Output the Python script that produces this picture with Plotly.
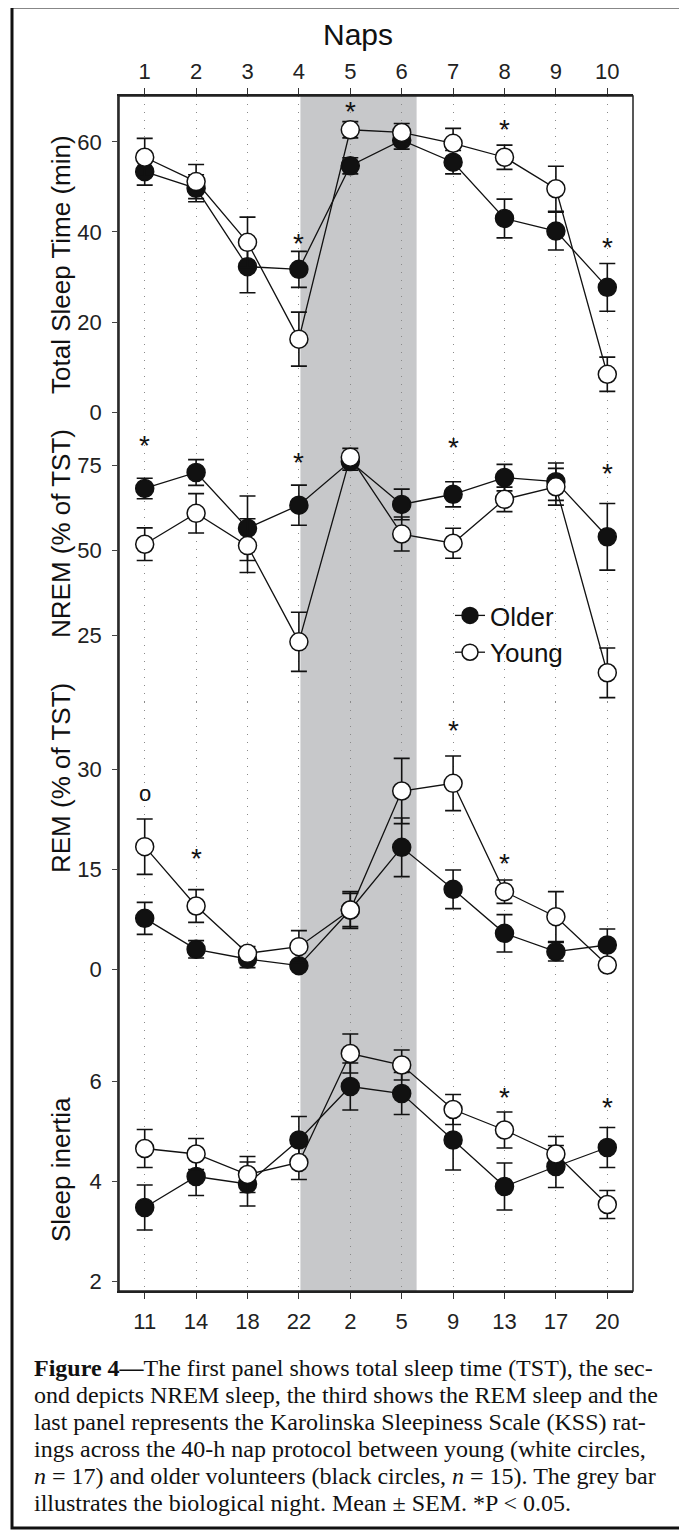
import plotly.graph_objects as go

# ---------------- data ----------------
naps = ['1', '2', '3', '4', '5', '6', '7', '8', '9', '10']
clock_hours = ['11', '14', '18', '22', '2', '5', '9', '13', '17', '20']

tst_older = [53.4, 49.7, 32.3, 31.7, 54.7, 60.4, 55.5, 43.0, 40.2, 27.7]
tst_older_sem = [3.0, 3.0, 5.8, 4.0, 1.8, 2.0, 2.6, 4.3, 4.2, 5.3]
tst_young = [56.6, 51.2, 37.7, 16.2, 62.7, 62.1, 59.7, 56.6, 49.6, 8.4]
tst_young_sem = [4.2, 3.8, 5.6, 6.0, 1.8, 2.0, 3.3, 2.7, 5.0, 3.8]

nrem_older = [68.1, 72.8, 56.4, 63.2, 76.0, 63.4, 66.4, 71.3, 70.1, 53.9]
nrem_older_sem = [3.0, 3.8, 9.5, 5.9, 2.5, 4.5, 3.7, 3.9, 5.5, 9.8]
nrem_young = [51.7, 60.8, 51.3, 23.0, 77.3, 54.7, 52.0, 64.9, 68.6, 13.9]
nrem_young_sem = [4.8, 5.8, 7.9, 8.7, 2.6, 5.0, 4.4, 3.6, 5.4, 7.3]

rem_older = [7.6, 2.95, 1.5, 0.5, 8.85, 18.25, 11.95, 5.35, 2.6, 3.6]
rem_older_sem = [2.4, 1.3, 1.3, 0.6, 2.5, 4.4, 2.9, 2.8, 1.4, 2.4]
rem_young = [18.35, 9.45, 2.35, 3.35, 8.85, 26.7, 27.85, 11.6, 7.85, 0.6]
rem_young_sem = [4.15, 2.45, 1.0, 2.4, 2.75, 4.9, 4.1, 1.75, 3.75, 0.5]

kss_older = [3.47, 4.09, 3.94, 4.82, 5.89, 5.75, 4.82, 3.89, 4.29, 4.67]
kss_older_sem = [0.45, 0.38, 0.44, 0.47, 0.47, 0.42, 0.6, 0.47, 0.42, 0.4]
kss_young = [4.65, 4.54, 4.13, 4.37, 6.55, 6.32, 5.43, 5.02, 4.54, 3.53]
kss_young_sem = [0.38, 0.31, 0.36, 0.34, 0.39, 0.3, 0.3, 0.36, 0.35, 0.28]

# significance markers: (nap index, y position, symbol)
tst_marks = [(3, 38.9, '*'), (4, 68.4, '*'), (7, 64.4, '*'), (9, 38.2, '*')]
nrem_marks = [(0, 82.8, '*'), (3, 77.9, '*'), (6, 82.1, '*'), (9, 74.5, '*')]
rem_marks = [(0, 26.4, 'o'), (1, 17.6, '*'), (6, 36.9, '*'), (7, 16.9, '*')]
kss_marks = [(7, 5.82, '*'), (9, 5.62, '*')]

night_start = 3.03
night_end = 5.29

caption_lines = [
    "<b>Figure 4—</b>The first panel shows total sleep time (TST), the sec-",
    "ond depicts NREM sleep, the third shows the REM sleep and the",
    "last panel represents the Karolinska Sleepiness Scale (KSS) rat-",
    "ings across the 40-h nap protocol between young (white circles,",
    "<i>n</i> = 17) and older volunteers (black circles, <i>n</i> = 15). The grey bar",
    "illustrates the biological night. Mean ± SEM. *P < 0.05.",
]

# ---------------- layout geometry (page pixel coordinates) ----------------
OFF = 8                      # default body margin of the html page
PAGE_W, PAGE_H = 687, 1537
W, H = PAGE_W - OFF, PAGE_H - OFF
L, R, T, B = 119, 633, 96, 1291   # plot area on the page
PH = B - T
PW = R - L


def fy(ypix):
    return (B - ypix) / PH


def fx(xpix):
    return (xpix - L) / PW


idx = list(range(len(naps)))
SANS = "Liberation Sans, Arial, sans-serif"
INK = '#111111'

fig = go.Figure()

panels = [
    ('y', tst_older, tst_older_sem, tst_young, tst_young_sem, tst_marks),
    ('y2', nrem_older, nrem_older_sem, nrem_young, nrem_young_sem, nrem_marks),
    ('y3', rem_older, rem_older_sem, rem_young, rem_young_sem, rem_marks),
    ('y4', kss_older, kss_older_sem, kss_young, kss_young_sem, kss_marks),
]

annotations = []
for ya, o, osem, yg, ysem, marks in panels:
    show = (ya == 'y2')
    fig.add_trace(go.Scatter(
        x=idx, y=o, yaxis=ya, xaxis='x', name='Older', showlegend=show,
        mode='lines+markers',
        line=dict(color=INK, width=1.3),
        marker=dict(symbol='circle', size=18, color=INK, line=dict(color=INK, width=1.5)),
        error_y=dict(type='data', array=osem, color=INK, thickness=1.6, width=8),
    ))
    fig.add_trace(go.Scatter(
        x=idx, y=yg, yaxis=ya, xaxis='x', name='Young', showlegend=show,
        mode='lines+markers',
        line=dict(color=INK, width=1.3),
        marker=dict(symbol='circle', size=18, color='white', line=dict(color=INK, width=1.5)),
        error_y=dict(type='data', array=ysem, color=INK, thickness=1.6, width=8),
    ))
    for (i, yv, s) in marks:
        annotations.append(dict(
            x=i, y=yv, xref='x', yref=ya, text=s, showarrow=False,
            font=dict(family=SANS, size=28 if s == '*' else 22, color=INK),
            yshift=-7 if s == '*' else 0,
        ))

# invisible trace to activate top axis
fig.add_trace(go.Scatter(x=idx, y=tst_older, xaxis='x2', yaxis='y', mode='markers',
                         marker=dict(opacity=0), showlegend=False, hoverinfo='skip'))

ytitles = [
    ("Total Sleep Time (min)", 265),
    ("NREM (% of TST)", 534),
    ("REM (% of TST)", 778),
    ("Sleep inertia", 1170),
]
for txt, yc in ytitles:
    annotations.append(dict(
        x=fx(61), y=fy(yc), xref='paper', yref='paper', text=txt, textangle=-90,
        showarrow=False, font=dict(family=SANS, size=26, color=INK),
        xanchor='center', yanchor='middle'))

annotations.append(dict(
    x=fx(358), y=fy(35), xref='paper', yref='paper', text='Naps', showarrow=False,
    font=dict(family=SANS, size=30, color=INK), xanchor='center', yanchor='middle'))

for k, line in enumerate(caption_lines):
    annotations.append(dict(
        x=fx(32), y=fy(1368 + 27 * k), xref='paper', yref='paper', text=line,
        showarrow=False, xanchor='left', yanchor='middle', align='left',
        font=dict(family="Liberation Serif, Times New Roman, serif", size=24, color='#111')))

yaxis_common = dict(
    showgrid=False, zeroline=False, showline=True, linecolor='#444', linewidth=1.5,
    ticks='outside', ticklen=5, tickcolor='#444', tickwidth=1.2, ticklabelstandoff=6,
    tickfont=dict(family=SANS, size=22, color='#222'), anchor='x',
)

fig.update_layout(
    width=W, height=H,
    margin=dict(l=L - OFF, r=W - (R - OFF), t=T - OFF, b=H - (B - OFF), pad=0),
    paper_bgcolor='white', plot_bgcolor='white',
    font=dict(family=SANS, color=INK),
    xaxis=dict(
        domain=[0, 1], anchor='y4', range=[-0.5, 9.5],
        tickmode='array', tickvals=idx, ticktext=clock_hours,
        ticks='outside', ticklen=6, tickcolor='#333', tickwidth=1.2, ticklabelstandoff=4,
        showline=True, linecolor='#222', linewidth=1.5,
        showgrid=True, griddash='1px,7px', gridcolor='#8a8a8a', gridwidth=1.2,
        zeroline=False, tickfont=dict(family=SANS, size=22, color='#222'),
    ),
    xaxis2=dict(
        overlaying='x', matches='x', side='top', anchor='y', range=[-0.5, 9.5],
        tickmode='array', tickvals=idx, ticktext=naps,
        ticks='outside', ticklen=6, tickcolor='#333', tickwidth=1.2,
        showline=True, linecolor='#222', linewidth=1.5, showgrid=False, zeroline=False,
        tickfont=dict(family=SANS, size=22, color='#222'),
    ),
    yaxis=dict(domain=[fy(413), 1.0], range=[-0.2, 70.2], tickvals=[0, 20, 40, 60], **yaxis_common),
    yaxis2=dict(domain=[fy(702), fy(413)], range=[5.3, 90.3], tickvals=[25, 50, 75], **yaxis_common),
    yaxis3=dict(domain=[fy(990), fy(702)], range=[-3.15, 40.05], tickvals=[0, 15, 30], **yaxis_common),
    yaxis4=dict(domain=[0, fy(990)], range=[1.8, 7.82], tickvals=[2, 4, 6], **yaxis_common),
    legend=dict(
        x=fx(450), y=fy(592), xanchor='left', yanchor='top',
        bgcolor='rgba(0,0,0,0)', font=dict(family=SANS, size=26, color=INK),
        tracegroupgap=0, itemwidth=30,
    ),
    annotations=annotations,
    shapes=[
        dict(type='rect', xref='x', yref='paper', x0=night_start, x1=night_end, y0=0, y1=1,
             fillcolor='#c7c8ca', line=dict(width=0), layer='below'),
        dict(type='rect', xref='paper', yref='paper', x0=0, x1=1, y0=0, y1=1,
             line=dict(color='#222', width=1.5), layer='above'),
        dict(type='rect', xref='paper', yref='paper', x0=fx(12), x1=fx(684), y0=fy(1528), y1=fy(7),
             line=dict(color='#111', width=3), layer='above'),
    ],
)

fig.write_html("out.html")
